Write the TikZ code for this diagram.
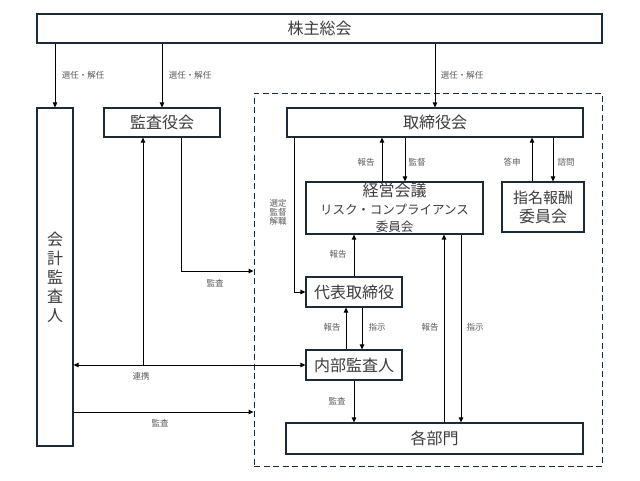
\documentclass[tikz,border=0pt]{standalone}
\usepackage{fontspec}
\usetikzlibrary{arrows.meta}
\newfontfamily\jp{Noto Sans CJK JP}
\definecolor{wakuiro}{HTML}{1B2B3A}
\definecolor{moji}{HTML}{3C3C3C}
\definecolor{usumoji}{HTML}{5A5A5A}
\newcommand{\waku}[5]{\node[waku, minimum width=#3, minimum height=#4] (#1) at (#2) {#5}}
\newcommand{\memo}[3]{\node[memo] (#1) at (#2) {#3}}
\newcommand{\ya}[2]{\draw[ya] (#1) -- (#2)}

\begin{document}
\begin{tikzpicture}[x=1pt,y=-1pt,
	waku/.style={draw=wakuiro, line width=1.2pt, fill=white, inner sep=0pt, text=moji, align=center, font=\jp\fontsize{16}{19}\selectfont},
	memo/.style={inner sep=0pt, text=usumoji, align=center, font=\jp\fontsize{8.5}{9}\selectfont},
	ya/.style={-{Triangle[length=5pt,width=4.5pt]}, line width=1pt},
	yaya/.style={{Triangle[length=5pt,width=4.5pt]}-{Triangle[length=5pt,width=4.5pt]}, line width=1pt}]
	\useasboundingbox (0,0) rectangle (640,480);
%The company part
	\node[draw=wakuiro, dashed, dash pattern=on 6pt off 3.5pt, line width=1pt, minimum width=348pt, minimum height=373pt, inner sep=0pt] (gyomu) at (428,279.5) {};
%Boxes
	\waku{soukai}{319.5,28.5}{565pt}{29pt}{株主総会};
	\waku{kaikei}{55,277}{36pt}{338pt}{\fontsize{16}{19.5}\selectfont 会\\計\\監\\査\\人};
	\waku{kansayaku}{162,122.5}{116pt}{29pt}{監査役会};
	\waku{torishimari}{435,122.5}{296pt}{29pt}{取締役会};
	\waku{keiei}{394.5,208}{177pt}{52pt}{経営会議\\[-1pt]{\fontsize{12.5}{15}\selectfont リスク・コンプライアンス}\\[-2pt]{\fontsize{12.5}{15}\selectfont 委員会}};
	\waku{shiname}{543,207}{82pt}{50pt}{\fontsize{15}{17}\selectfont 指名報酬\\委員会};
	\waku{daihyo}{354,292}{96pt}{30pt}{代表取締役};
	\waku{naibu}{354,365}{96pt}{30pt}{内部監査人};
	\waku{kakubu}{434.5,438.5}{297pt}{31pt}{各部門};
%Where the lines run
	\coordinate (kansa) at (181,0);
	\coordinate (renkei) at (143,0);
	\coordinate (sentei) at (294,0);
	\coordinate (hokokuA) at (382,0);
	\coordinate (kantoku) at (405,0);
	\coordinate (toshin) at (532,0);
	\coordinate (shimon) at (553,0);
	\coordinate (hokokuC) at (346,0);
	\coordinate (shijiA) at (362,0);
	\coordinate (hokokuD) at (444,0);
	\coordinate (shijiB) at (461,0);
	\coordinate (kansaA) at (0,271);
	\coordinate (kansaB) at (0,412);
%From the shareholders
	\ya{soukai.south -| kaikei}{kaikei.north};
	\ya{soukai.south -| kansayaku}{kansayaku.north};
	\ya{soukai.south -| torishimari}{torishimari.north};
	\memo{senin1}{83,75}{選任・解任};
	\memo{senin2}{190,75}{選任・解任};
	\memo{senin3}{462,75}{選任・解任};
%Auditors
	\draw[ya] (kansa |- kansayaku.south) |- (gyomu.west |- kansaA);
	\draw[ya] (renkei |- naibu.west) -- (renkei |- kansayaku.south);
	\draw[yaya] (kaikei.east |- naibu.west) -- (naibu.west);
	\draw[ya] (kaikei.east |- kansaB) -- (gyomu.west |- kansaB);
	\memo{kansa1}{215,283}{監査};
	\memo{renkei1}{141,376}{連携};
	\memo{kansa2}{160,423}{監査};
%Board and its committees
	\draw[ya] (sentei |- torishimari.south) |- (daihyo.west);
	\memo{sentei1}{278,212}{選定\\監督\\解職};
	\ya{hokokuA |- keiei.north}{hokokuA |- torishimari.south};
	\ya{kantoku |- torishimari.south}{kantoku |- keiei.north};
	\ya{toshin |- shiname.north}{toshin |- torishimari.south};
	\ya{shimon |- torishimari.south}{shimon |- shiname.north};
	\memo{hokoku1}{366,162}{報告};
	\memo{kantoku1}{417,162}{監督};
	\memo{toshin1}{512,162}{答申};
	\memo{shimon1}{566,162}{諮問};
%Executive side
	\ya{daihyo.north}{daihyo.north |- keiei.south};
	\ya{hokokuC |- naibu.north}{hokokuC |- daihyo.south};
	\ya{shijiA |- daihyo.south}{shijiA |- naibu.north};
	\ya{naibu.south}{naibu.south |- kakubu.north};
	\ya{hokokuD |- kakubu.north}{hokokuD |- keiei.south};
	\ya{shijiB |- keiei.south}{shijiB |- kakubu.north};
	\memo{hokoku2}{338,254}{報告};
	\memo{hokoku3}{332,327}{報告};
	\memo{shiji1}{377,327}{指示};
	\memo{hokoku4}{430,327}{報告};
	\memo{shiji2}{475,327}{指示};
	\memo{kansa3}{337,401}{監査};
\end{tikzpicture}
\end{document}
